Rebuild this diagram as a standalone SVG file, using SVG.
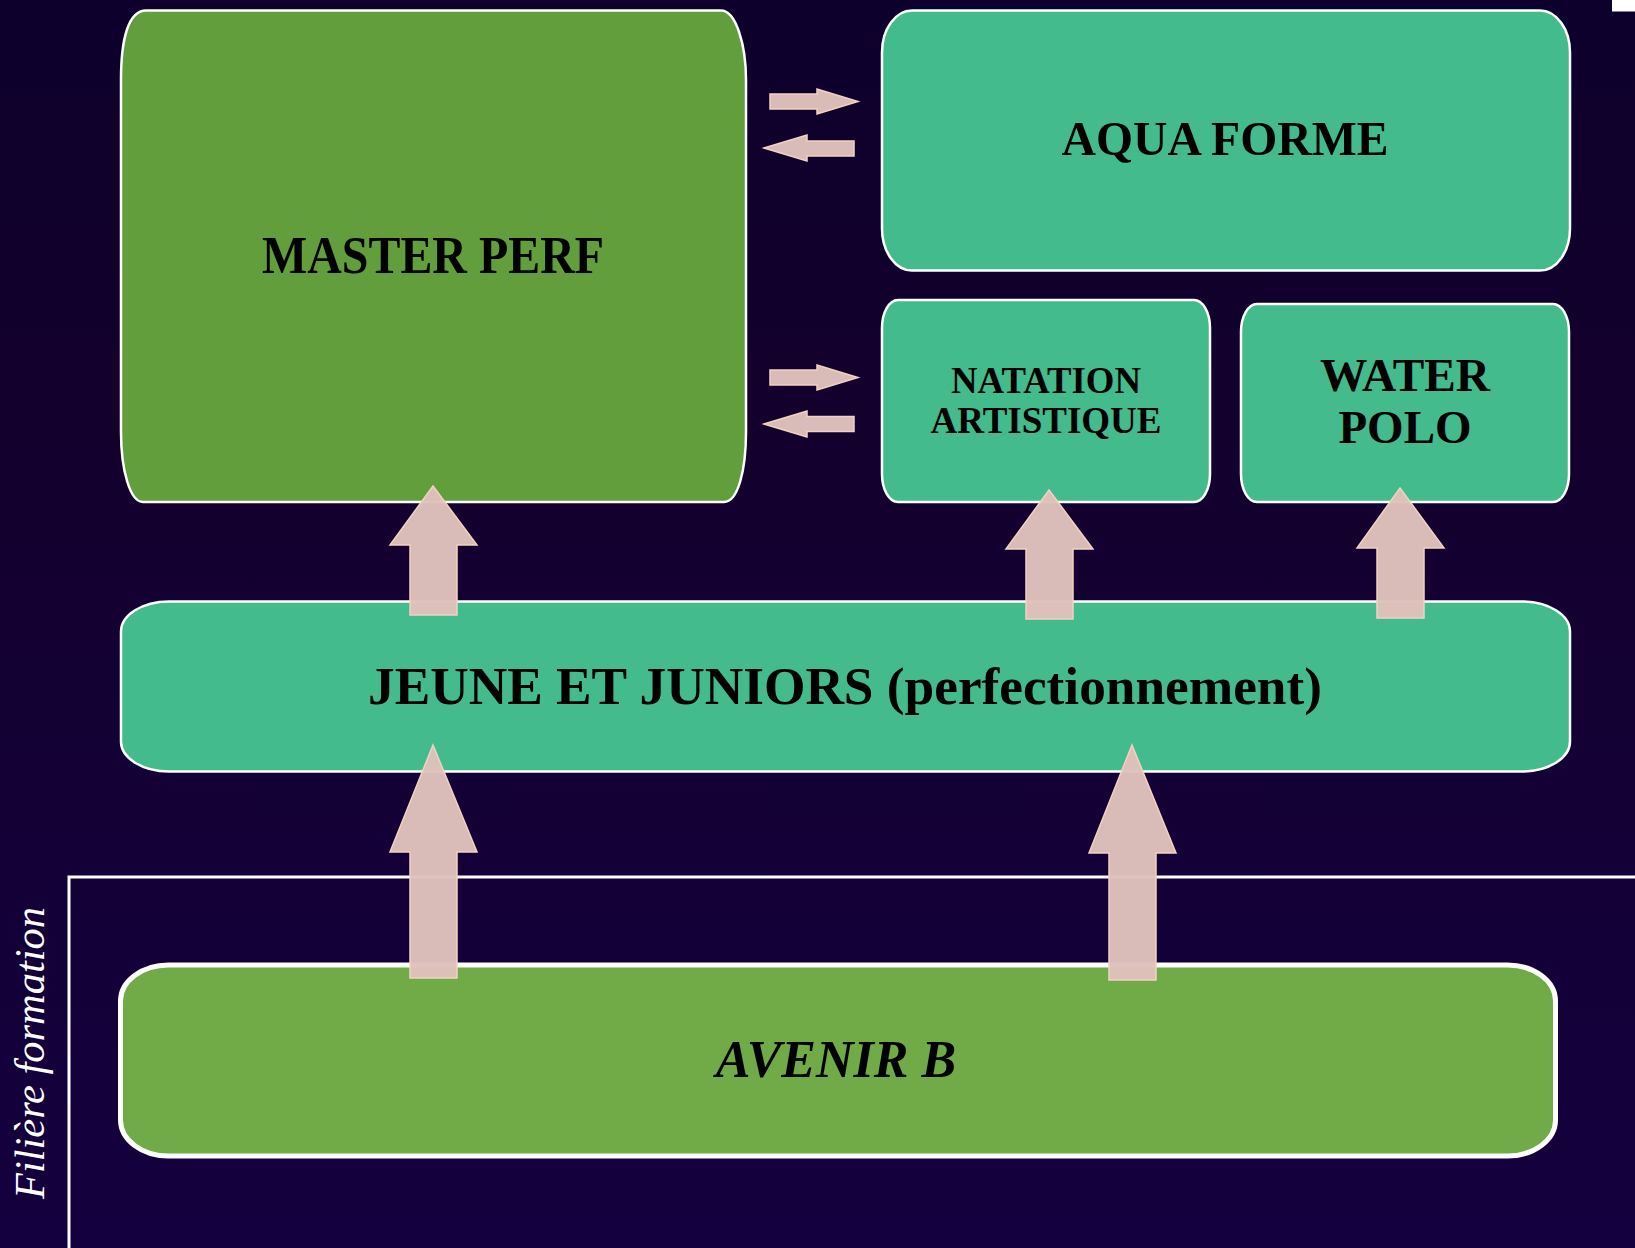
<svg xmlns="http://www.w3.org/2000/svg" width="1635" height="1248" viewBox="0 0 1635 1248">
<defs>
<linearGradient id="bg" x1="0" y1="0" x2="0" y2="1">
<stop offset="0" stop-color="#0d002c"/>
<stop offset="0.3" stop-color="#13002c"/>
<stop offset="1" stop-color="#14003e"/>
</linearGradient>
</defs>
<style>
.box{stroke:#ffffff;stroke-width:2.5}
.teal{fill:#44bb8c}
.lbl{font-family:"Liberation Serif","Times New Roman",serif;font-weight:bold;fill:#000000;text-anchor:middle}
.arr{fill:#e0c1bc;fill-opacity:0.97;stroke:#f2d2c2;stroke-width:1.5}
</style>
<rect x="0" y="0" width="1635" height="1248" fill="url(#bg)"/>
<rect x="1612" y="0" width="23" height="11.5" fill="#ffffff"/>

<g id="frame">
<path d="M69,1248 V877 H1635" fill="none" stroke="#ffffff" stroke-width="3"/>
<text x="0" y="0" transform="translate(44,1053) rotate(-90)" font-family="Liberation Serif,Times New Roman,serif" font-style="italic" font-size="42" fill="#ffffff" text-anchor="middle" textLength="292" lengthAdjust="spacingAndGlyphs">Filière formation</text>
</g>

<g id="master">
<path class="box" fill="#629e3c" d="M146,10.5 H721 C736,10.5 746,45 746,80 V432 C746,470 738,502 724,502 H143 C130,502 121,470 121,432 V80 C121,40 128,10.5 146,10.5 Z"/>
<text class="lbl" x="433" y="273" font-size="52" textLength="342" lengthAdjust="spacingAndGlyphs">MASTER PERF</text>
</g>

<g id="aqua">
<rect class="box teal" x="882" y="10.5" width="688" height="260" rx="30" ry="42"/>
<text class="lbl" x="1225" y="155" font-size="49" textLength="327" lengthAdjust="spacingAndGlyphs">AQUA FORME</text>
</g>

<g id="natation">
<rect class="box teal" x="882" y="300" width="328" height="202" rx="16" ry="28"/>
<text class="lbl" x="1046" y="393" font-size="38" textLength="190" lengthAdjust="spacingAndGlyphs">NATATION</text>
<text class="lbl" x="1046" y="433" font-size="38" textLength="231" lengthAdjust="spacingAndGlyphs">ARTISTIQUE</text>
</g>

<g id="waterpolo">
<rect class="box teal" x="1241" y="304" width="328" height="198" rx="16" ry="28"/>
<text class="lbl" x="1405" y="391" font-size="47" textLength="170" lengthAdjust="spacingAndGlyphs">WATER</text>
<text class="lbl" x="1405" y="443" font-size="47">POLO</text>
</g>

<g id="jeune">
<rect class="box teal" x="121" y="601.5" width="1449" height="170" rx="48" ry="30"/>
<text class="lbl" x="845" y="704" font-size="53" textLength="954" lengthAdjust="spacingAndGlyphs">JEUNE ET JUNIORS (perfectionnement)</text>
</g>

<g id="avenir">
<rect x="120.5" y="965" width="1435" height="191" rx="48" ry="36" fill="#70ab48" stroke="#ffffff" stroke-width="5"/>
<text class="lbl" x="836" y="1077" font-size="52" font-style="italic">AVENIR B</text>
</g>

<g id="connectors">
<polygon class="arr" points="770,94 817,94 817,89 858,101.5 817,114 817,109 770,109"/>
<polygon class="arr" points="854,141 807,141 807,135 764,148 807,161 807,156 854,156"/>
<polygon class="arr" points="770,370 817,370 817,365 858,377.5 817,390 817,385 770,385"/>
<polygon class="arr" points="854,416.5 807,416.5 807,411 764,424 807,437 807,431.5 854,431.5"/>
<polygon class="arr" points="433,486 477,545 457,545 457,615 410,615 410,545 390,545"/>
<polygon class="arr" points="1049,490 1093,549 1073,549 1073,619 1026,619 1026,549 1006,549"/>
<polygon class="arr" points="1400,488 1444,548 1424,548 1424,618 1377,618 1377,548 1357,548"/>
<polygon class="arr" points="433,745 477,852 457,852 457,978 410,978 410,852 390,852"/>
<polygon class="arr" points="1132,745 1176,853 1156,853 1156,980 1109,980 1109,853 1089,853"/>
</g>
</svg>
